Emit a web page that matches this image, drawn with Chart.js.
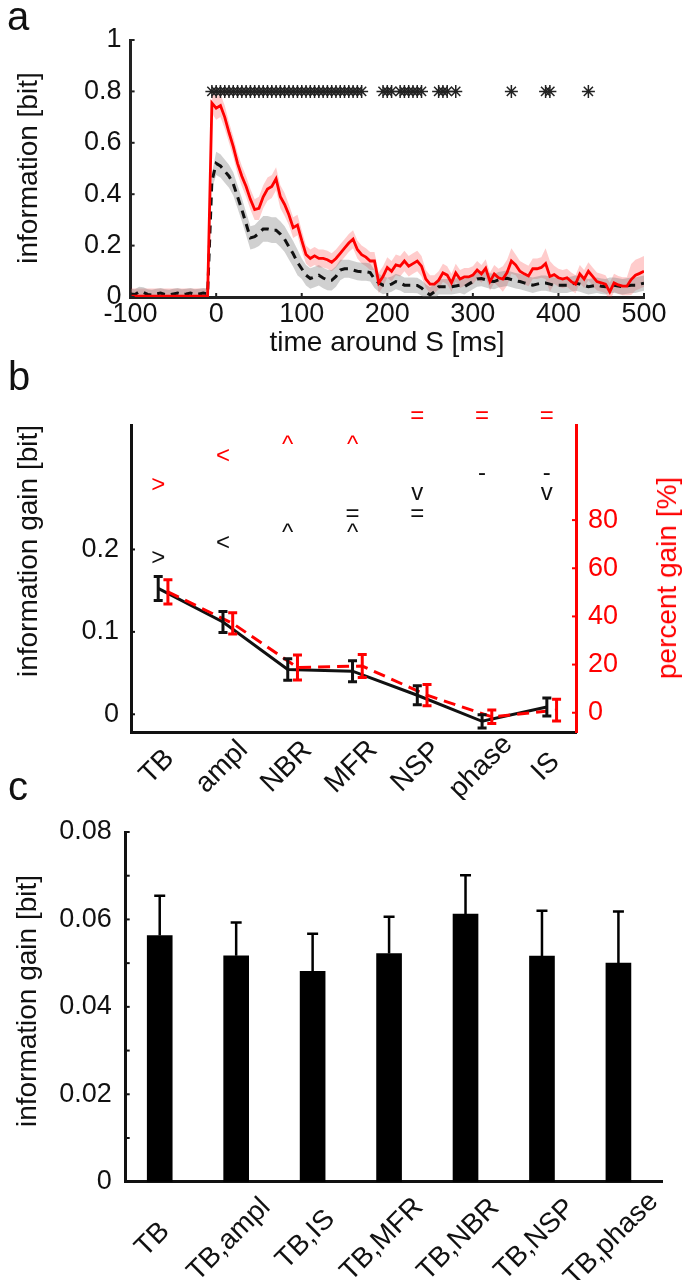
<!DOCTYPE html>
<html lang="en">
<head>
<meta charset="UTF-8">
<title>Information and information gain</title>
<script src="https://cdn.jsdelivr.net/npm/chart.js"></script>
<style>
  body { margin: 0; background: #fff; font-family: 'Liberation Sans', Arial, sans-serif; }
  #fig { position: relative; width: 685px; height: 1280px; overflow: hidden; }
  canvas { position: absolute; left: 0; }
  .lbl { position: absolute; font-size: 40px; line-height: 40px; color: #111; }
  .ttl { position: absolute; font-size: 28px; line-height: 28px; color: #111; white-space: nowrap; transform: translate(-50%, -50%); }
  .rot { transform: translate(-50%, -50%) rotate(-90deg); }
</style>
</head>
<body>
<div id="fig">
  <canvas id="chartA" width="685" height="375" style="top:0"></canvas>
  <canvas id="chartB" width="685" height="425" style="top:375px"></canvas>
  <canvas id="chartC" width="685" height="480" style="top:800px"></canvas>

  <div class="lbl" style="left:7px; top:-4px">a</div>
  <div class="lbl" style="left:8px; top:356px">b</div>
  <div class="lbl" style="left:8px; top:766px">c</div>

  <div class="ttl rot" style="left:28px; top:168px">information [bit]</div>
  <div class="ttl" style="left:387px; top:342px">time around S [ms]</div>
  <div class="ttl rot" style="left:28px; top:551px">information gain [bit]</div>
  <div class="ttl rot" style="left:667px; top:578px; color:#ff0000">percent gain [%]</div>
  <div class="ttl rot" style="left:27px; top:1001px">information gain [bit]</div>
</div>

<script>
Chart.defaults.font.family = "'Liberation Sans', Arial, sans-serif";
Chart.defaults.font.size = 27;
Chart.defaults.color = '#111';

// ---------- panel a: information around S ----------
const timeMs = [
  -100, -95, -90, -85, -80, -75, -70, -65, -60, -55,
  -50, -45, -40, -35, -30, -25, -20, -15, -10, -5,
  0, 5, 10, 15, 20, 25, 30, 35, 40, 45,
  50, 55, 60, 65, 70, 75, 80, 85, 90, 95,
  100, 105, 110, 115, 120, 125, 130, 135, 140, 145,
  150, 155, 160, 165, 170, 175, 180, 185, 190, 195,
  200, 205, 210, 215, 220, 225, 230, 235, 240, 245,
  250, 255, 260, 265, 270, 275, 280, 285, 290, 295,
  300, 305, 310, 315, 320, 325, 330, 335, 340, 345,
  350, 355, 360, 365, 370, 375, 380, 385, 390, 395,
  400, 405, 410, 415, 420, 425, 430, 435, 440, 445,
  450, 455, 460, 465, 470, 475, 480, 485, 490, 495,
  500
];
const infoRed = [
  0.003, 0.003, 0.003, 0.003, 0.003, 0.003, 0.003, 0.003, 0.003, 0.003,
  0.003, 0.003, 0.003, 0.003, 0.003, 0.003, 0.003, 0.003, 0.003, 0.755,
  0.735, 0.745, 0.70, 0.64, 0.585, 0.52, 0.47, 0.43, 0.38, 0.34,
  0.345, 0.39, 0.42, 0.43, 0.46, 0.39, 0.36, 0.32, 0.27, 0.28,
  0.22, 0.165, 0.15, 0.16, 0.15, 0.15, 0.145, 0.135, 0.15, 0.17,
  0.19, 0.21, 0.225, 0.185, 0.165, 0.155, 0.14, 0.14, 0.055, 0.08,
  0.115, 0.10, 0.125, 0.12, 0.14, 0.12, 0.13, 0.14, 0.12, 0.07,
  0.05, 0.05, 0.065, 0.094, 0.085, 0.055, 0.094, 0.07, 0.078, 0.078,
  0.085, 0.105, 0.09, 0.112, 0.06, 0.09, 0.075, 0.07, 0.095, 0.14,
  0.125, 0.10, 0.09, 0.082, 0.11, 0.11, 0.115, 0.13, 0.08, 0.087,
  0.075, 0.07, 0.075, 0.06, 0.05, 0.09, 0.07, 0.10, 0.08, 0.06,
  0.055, 0.05, 0.02, 0.055, 0.047, 0.042, 0.042, 0.068, 0.085, 0.092,
  0.10
];
const infoRedErr = [
  0.03, 0.03, 0.03, 0.03, 0.03, 0.03, 0.03, 0.03, 0.03, 0.03,
  0.03, 0.03, 0.03, 0.03, 0.03, 0.03, 0.03, 0.03, 0.03, 0.04,
  0.045, 0.045, 0.045, 0.04, 0.04, 0.04, 0.04, 0.04, 0.04, 0.04,
  0.045, 0.045, 0.045, 0.045, 0.045, 0.045, 0.045, 0.04, 0.04, 0.04,
  0.04, 0.035, 0.035, 0.035, 0.035, 0.035, 0.035, 0.035, 0.035, 0.035,
  0.035, 0.035, 0.035, 0.035, 0.035, 0.035, 0.035, 0.035, 0.04, 0.04,
  0.04, 0.04, 0.04, 0.04, 0.04, 0.04, 0.04, 0.04, 0.04, 0.035,
  0.035, 0.035, 0.035, 0.035, 0.035, 0.035, 0.035, 0.035, 0.035, 0.035,
  0.035, 0.035, 0.035, 0.035, 0.035, 0.035, 0.035, 0.05, 0.05, 0.05,
  0.04, 0.04, 0.04, 0.04, 0.04, 0.04, 0.04, 0.06, 0.06, 0.035,
  0.035, 0.035, 0.035, 0.035, 0.035, 0.035, 0.035, 0.035, 0.035, 0.035,
  0.035, 0.035, 0.035, 0.035, 0.035, 0.035, 0.035, 0.06, 0.06, 0.06,
  0.06
];
const infoBlack = [
  0.012, 0.01, 0.02, 0.018, 0.01, 0.008, 0.012, 0.015, 0.01, 0.008,
  0.012, 0.015, 0.01, 0.012, 0.015, 0.01, 0.012, 0.015, 0.012, 0.45,
  0.52, 0.51, 0.49, 0.47, 0.44, 0.39, 0.34, 0.285, 0.23, 0.235,
  0.248, 0.265, 0.265, 0.26, 0.26, 0.245, 0.225, 0.196, 0.168, 0.135,
  0.11, 0.085, 0.072, 0.078, 0.085, 0.074, 0.066, 0.065, 0.08, 0.105,
  0.11, 0.11, 0.105, 0.10, 0.098, 0.098, 0.095, 0.07, 0.055, 0.046,
  0.045, 0.05, 0.06, 0.055, 0.046, 0.046, 0.046, 0.045, 0.035, 0.02,
  0.008, 0.02, 0.04, 0.04, 0.04, 0.04, 0.043, 0.046, 0.04, 0.05,
  0.06, 0.07, 0.072, 0.067, 0.062, 0.06, 0.067, 0.07, 0.073, 0.068,
  0.063, 0.06, 0.055, 0.05, 0.046, 0.05, 0.054, 0.054, 0.05, 0.046,
  0.046, 0.046, 0.046, 0.05, 0.054, 0.05, 0.045, 0.04, 0.043, 0.046,
  0.042, 0.04, 0.046, 0.046, 0.043, 0.04, 0.043, 0.046, 0.046, 0.05,
  0.054
];
const infoBlackErr = [
  0.02, 0.02, 0.02, 0.02, 0.02, 0.02, 0.02, 0.02, 0.02, 0.02,
  0.02, 0.02, 0.02, 0.02, 0.02, 0.02, 0.02, 0.02, 0.02, 0.03,
  0.045, 0.045, 0.045, 0.045, 0.045, 0.045, 0.045, 0.045, 0.045, 0.045,
  0.05, 0.05, 0.05, 0.05, 0.05, 0.05, 0.05, 0.05, 0.05, 0.05,
  0.04, 0.04, 0.04, 0.04, 0.04, 0.04, 0.04, 0.04, 0.04, 0.04,
  0.035, 0.035, 0.035, 0.035, 0.035, 0.035, 0.035, 0.035, 0.035, 0.035,
  0.03, 0.03, 0.03, 0.03, 0.03, 0.03, 0.03, 0.03, 0.03, 0.03,
  0.03, 0.03, 0.03, 0.03, 0.03, 0.03, 0.03, 0.03, 0.03, 0.03,
  0.03, 0.03, 0.03, 0.03, 0.03, 0.03, 0.03, 0.03, 0.03, 0.03,
  0.03, 0.03, 0.03, 0.03, 0.03, 0.03, 0.03, 0.03, 0.03, 0.03,
  0.03, 0.03, 0.03, 0.03, 0.03, 0.03, 0.03, 0.03, 0.03, 0.03,
  0.03, 0.03, 0.03, 0.03, 0.03, 0.03, 0.03, 0.03, 0.03, 0.03,
  0.03
];
// times with a significant difference (asterisks)
const sigTimes = [
  -5, 0, 5, 10, 15, 20, 25, 30, 35, 40, 45, 50, 55, 60, 65, 70, 75, 80, 85, 90,
  95, 100, 105, 110, 115, 120, 125, 130, 135, 140, 145, 150, 155, 160, 165, 170,
  195, 200, 205, 215, 220, 225, 230, 235, 240,
  260, 265, 270, 280, 345, 385, 390, 435
];
const sigLevel = 0.8;
const xTicksA = [-100, 0, 100, 200, 300, 400, 500];
const yTicksA = [0, 0.2, 0.4, 0.6, 0.8, 1];

// ---------- panel b: gain per feature ----------
const features = ['TB', 'ampl', 'NBR', 'MFR', 'NSP', 'phase', 'IS'];
const gainBit = [0.1527, 0.112, 0.0543, 0.0523, 0.0231, -0.0085, 0.0089];
const gainBitErr = [0.0145, 0.0128, 0.013, 0.0128, 0.0115, 0.008, 0.011];
const gainPct = [50.2, 37.1, 18.8, 19.4, 7.3, -1.7, 1.1];
const gainPctErr = [5.0, 4.4, 5.2, 4.8, 4.4, 2.8, 4.5];
const yTicksB = [0, 0.1, 0.2];
const pctTicksB = [0, 20, 40, 60, 80];
// comparison symbols above the curve (feature index, symbol, level in bit, red?)
const markCat = [0, 1, 2, 3, 4, 5, 6, 0, 1, 2, 3, 3, 4, 4, 5, 6, 6];
const markSym = ['>', '<', '^', '^', '=', '=', '=', '>', '<', '^', '=', '^', 'v', '=', '-', '-', 'v'];
const markLevel = [0.278, 0.313, 0.331, 0.331, 0.361, 0.361, 0.361,
                   0.189, 0.207, 0.224, 0.242, 0.224, 0.266, 0.242, 0.290, 0.290, 0.266];
const markRed = [1, 1, 1, 1, 1, 1, 1, 0, 0, 0, 0, 0, 0, 0, 0, 0, 0];

// ---------- panel c: gain for feature pairs ----------
const combos = ['TB', 'TB,ampl', 'TB,IS', 'TB,MFR', 'TB,NBR', 'TB,NSP', 'TB,phase'];
const comboGain = [0.0563, 0.0517, 0.0481, 0.0522, 0.0612, 0.0516, 0.0500];
const comboErr = [0.0091, 0.0076, 0.0086, 0.0084, 0.0089, 0.0104, 0.0118];
const yTicksC = [0, 0.01, 0.02, 0.03, 0.04, 0.05, 0.06, 0.07, 0.08];

const INK = '#111';
const RED = '#ff0000';

// small tick marks pointing into the plot, like the original axes
function innerTicks(marks) {
  return {
    id: 'innerTicks',
    afterDraw(chart) {
      const ctx = chart.ctx;
      marks.forEach(m => {
        const s = chart.scales[m.axis];
        ctx.save();
        ctx.strokeStyle = m.color;
        ctx.lineWidth = 2;
        m.values.forEach(v => {
          const p = s.getPixelForValue(v);
          ctx.beginPath();
          if (s.isHorizontal()) { ctx.moveTo(p, s.top); ctx.lineTo(p, s.top - m.len); }
          else if (s.position === 'left') { ctx.moveTo(s.right, p); ctx.lineTo(s.right + m.len, p); }
          else { ctx.moveTo(s.left, p); ctx.lineTo(s.left - m.len, p); }
          ctx.stroke();
        });
        ctx.restore();
      });
    }
  };
}

// category labels turned 45 degrees, centred under each tick
function rotatedLabels(labels, dx, dy) {
  return {
    id: 'rotatedLabels',
    afterDraw(chart) {
      const ctx = chart.ctx, s = chart.scales.x;
      ctx.save();
      ctx.font = "28px 'Liberation Sans', Arial, sans-serif";
      ctx.fillStyle = INK;
      ctx.textAlign = 'center';
      ctx.textBaseline = 'middle';
      labels.forEach((l, i) => {
        ctx.save();
        ctx.translate(s.getPixelForValue(i) + dx, s.top + dy);
        ctx.rotate(-Math.PI / 4);
        ctx.fillText(l, 0, 0);
        ctx.restore();
      });
      ctx.restore();
    }
  };
}

function errorBars(sets) {
  return {
    id: 'errorBars',
    afterDatasetsDraw(chart) {
      const ctx = chart.ctx, xs = chart.scales.x;
      sets.forEach(set => {
        const ys = chart.scales[set.axis];
        ctx.save();
        ctx.strokeStyle = set.color;
        ctx.lineWidth = set.width;
        set.vals.forEach((v, i) => {
          const x = xs.getPixelForValue(i + set.dx);
          const top = ys.getPixelForValue(v + set.errs[i]);
          const bot = ys.getPixelForValue(set.upOnly ? v : v - set.errs[i]);
          ctx.beginPath();
          ctx.moveTo(x, top); ctx.lineTo(x, bot);
          ctx.moveTo(x - set.cap / 2, top); ctx.lineTo(x + set.cap / 2, top);
          if (!set.upOnly) { ctx.moveTo(x - set.cap / 2, bot); ctx.lineTo(x + set.cap / 2, bot); }
          ctx.stroke();
        });
        ctx.restore();
      });
    }
  };
}

const comparisonMarks = {
  id: 'comparisonMarks',
  afterDatasetsDraw(chart) {
    const ctx = chart.ctx, xs = chart.scales.x, ys = chart.scales.y;
    ctx.save();
    ctx.font = "24px 'Liberation Sans', Arial, sans-serif";
    ctx.textAlign = 'center';
    ctx.textBaseline = 'middle';
    markSym.forEach((sym, i) => {
      ctx.fillStyle = markRed[i] ? RED : INK;
      const shift = sym === '^' ? 4 : (sym === 'v' || sym === '-') ? -2 : 0;
      ctx.fillText(sym, xs.getPixelForValue(markCat[i]), ys.getPixelForValue(markLevel[i]) + shift);
    });
    ctx.restore();
  }
};

const pts = (xs, ys) => ys.map((y, i) => ({ x: xs[i], y }));
const band = (vals, errs, sign) => vals.map((v, i) => ({ x: timeMs[i], y: v + sign * errs[i] }));
const fixedTicks = vals => s => { s.ticks = vals.map(v => ({ value: v })); };
const noLegend = { legend: { display: false }, tooltip: { enabled: false } };
const noGrid = { display: false, drawTicks: false };

// ---------- chart a ----------
new Chart(document.getElementById('chartA'), {
  type: 'line',
  data: {
    datasets: [
      { data: band(infoRed, infoRedErr, -1), borderWidth: 0, pointRadius: 0, fill: false, order: 6 },
      { data: band(infoRed, infoRedErr, 1), borderWidth: 0, pointRadius: 0, fill: '-1',
        backgroundColor: 'rgba(255, 50, 50, 0.25)', order: 5 },
      { data: band(infoBlack, infoBlackErr, -1), borderWidth: 0, pointRadius: 0, fill: false, order: 4 },
      { data: band(infoBlack, infoBlackErr, 1), borderWidth: 0, pointRadius: 0, fill: '-1',
        backgroundColor: 'rgba(120, 120, 120, 0.35)', order: 3 },
      { data: pts(timeMs, infoBlack), borderColor: '#111', borderWidth: 3, borderDash: [8, 6],
        pointRadius: 0, fill: false, order: 2 },
      { data: pts(timeMs, infoRed), borderColor: RED, borderWidth: 2.8, pointRadius: 0, fill: false, order: 1 },
      { type: 'scatter', data: sigTimes.map(t => ({ x: t, y: sigLevel })), pointStyle: 'star',
        pointRadius: 6.5, borderColor: '#222', borderWidth: 1.5, showLine: false, order: 0 }
    ]
  },
  options: {
    responsive: false, animation: false, events: [],
    layout: { padding: { top: 40, right: 41, left: 0, bottom: 0 } },
    plugins: noLegend,
    scales: {
      x: {
        type: 'linear', min: -100, max: 500,
        afterBuildTicks: fixedTicks(xTicksA),
        afterFit: s => { s.height = 78; },
        grid: noGrid,
        border: { color: '#222', width: 3 },
        ticks: { padding: 1, maxRotation: 0, color: INK }
      },
      y: {
        min: 0, max: 1,
        afterBuildTicks: fixedTicks(yTicksA),
        afterFit: s => { s.width = 130.6; },
        grid: noGrid,
        border: { color: '#222', width: 3 },
        ticks: { padding: 9, color: INK, callback: v => String(Math.round(v * 10) / 10) }
      }
    }
  },
  plugins: [innerTicks([
    { axis: 'x', values: xTicksA, len: 4, color: '#222' },
    { axis: 'y', values: yTicksA, len: 4, color: '#222' }
  ])]
});

// ---------- chart b ----------
const redShift = 0.15;
new Chart(document.getElementById('chartB'), {
  type: 'scatter',
  data: {
    datasets: [
      { data: gainBit.map((v, i) => ({ x: i, y: v })), yAxisID: 'y', showLine: true,
        borderColor: '#111', borderWidth: 3, pointRadius: 0, order: 1 },
      { data: gainPct.map((v, i) => ({ x: i + redShift, y: v })), yAxisID: 'y2', showLine: true,
        borderColor: RED, borderDash: [12, 7], borderWidth: 3, pointRadius: 0, order: 0 }
    ]
  },
  options: {
    responsive: false, animation: false, events: [],
    layout: { padding: { top: 50, right: 0, left: 0, bottom: 0 } },
    plugins: noLegend,
    scales: {
      x: {
        type: 'linear', min: -0.42, max: 6.45,
        afterFit: s => { s.height = 68; },
        grid: noGrid,
        border: { color: '#111', width: 3 },
        ticks: { display: false }
      },
      y: {
        position: 'left', min: -0.0215, max: 0.351,
        afterBuildTicks: fixedTicks(yTicksB),
        afterFit: s => { s.width = 131; },
        grid: noGrid,
        border: { color: '#111', width: 3 },
        ticks: { padding: 12, color: INK }
      },
      y2: {
        position: 'right', min: -8, max: 119.5,
        afterBuildTicks: fixedTicks(pctTicksB),
        afterFit: s => { s.width = 109; },
        grid: noGrid,
        border: { color: RED, width: 3 },
        ticks: { padding: 12, color: RED }
      }
    }
  },
  plugins: [
    errorBars([
      { axis: 'y', vals: gainBit, errs: gainBitErr, dx: 0, color: '#111', width: 3, cap: 9 },
      { axis: 'y2', vals: gainPct, errs: gainPctErr, dx: redShift, color: RED, width: 3, cap: 9 }
    ]),
    comparisonMarks,
    rotatedLabels(features, -1, 35),
    innerTicks([
      { axis: 'y', values: yTicksB, len: 4, color: '#111' },
      { axis: 'y2', values: pctTicksB, len: 4, color: RED }
    ])
  ]
});

// ---------- chart c ----------
new Chart(document.getElementById('chartC'), {
  type: 'bar',
  data: {
    datasets: [
      { data: comboGain.map((v, i) => ({ x: i, y: v })), backgroundColor: '#000', barThickness: 25 }
    ]
  },
  options: {
    responsive: false, animation: false, events: [],
    layout: { padding: { top: 32, right: 23, left: 0, bottom: 0 } },
    plugins: noLegend,
    scales: {
      x: {
        type: 'linear', min: -0.445, max: 6.57, offset: false,
        afterFit: s => { s.height = 98.3; },
        grid: { display: false, drawTicks: false, offset: false },
        border: { color: '#111', width: 3 },
        ticks: { display: false }
      },
      y: {
        min: 0, max: 0.08,
        afterBuildTicks: fixedTicks(yTicksC),
        afterFit: s => { s.width = 125.7; },
        grid: noGrid,
        border: { color: '#111', width: 3 },
        ticks: {
          padding: 14, color: INK,
          callback: v => (Math.round(v * 100) % 2 === 0 ? (Math.round(v * 100) === 0 ? '0' : v.toFixed(2)) : '')
        }
      }
    }
  },
  plugins: [
    errorBars([
      { axis: 'y', vals: comboGain, errs: comboErr, dx: 0, color: '#000', width: 2.5, cap: 11, upOnly: true }
    ]),
    rotatedLabels(combos, -7, 58),
    innerTicks([{ axis: 'y', values: yTicksC, len: 4, color: '#111' }])
  ]
});
</script>
</body>
</html>
